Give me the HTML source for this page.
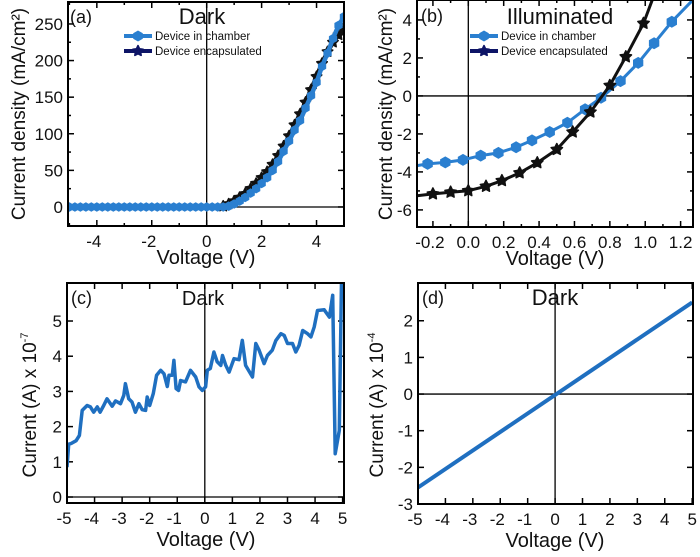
<!DOCTYPE html>
<html><head><meta charset="utf-8"><style>
body{margin:0;background:#fff;}
svg{display:block;font-family:"Liberation Sans",Arial,sans-serif;}
</style></head><body>
<svg id="fig" width="700" height="557" viewBox="0 0 700 557" xmlns="http://www.w3.org/2000/svg"></svg>
<script>
// Panel (a) data
const aVoltNeg = [-5,-4.8,-4.6,-4.4,-4.2,-4,-3.8,-3.6,-3.4,-3.2,-3,-2.8,-2.6,-2.4,-2.2,-2,-1.8,-1.6,-1.4,-1.2,-1,-0.8,-0.6,-0.4,-0.2,0,0.2,0.4];
const aVolt = [0.6,0.8,1.0,1.2,1.4,1.6,1.8,2.0,2.2,2.4,2.6,2.8,3.0,3.2,3.4,3.6,3.8,4.0,4.2,4.4,4.6,4.8,5.0];
const aChamber = [0,1,4,8,13,19,25,32,40,50,62,76,90,105,118,135,152,170,192,210,230,248,260];
const aEncaps = [1,4,8,13,18,25,32,40,48,58,70,83,97,112,127,143,160,178,196,212,225,235,242];
// Panel (b) data
const bVoltChamber = [-0.29,-0.23,-0.13,-0.03,0.07,0.17,0.27,0.36,0.46,0.56,0.66,0.75,0.86,0.96,1.05,1.15,1.27];
const bChamber = [-3.67,-3.58,-3.5,-3.37,-3.14,-3.0,-2.7,-2.34,-1.9,-1.41,-0.7,-0.1,0.78,1.74,2.77,3.91,5.06];
const bVoltEncaps = [-0.29,-0.2,-0.1,0.0,0.1,0.19,0.29,0.39,0.5,0.59,0.69,0.8,0.89,0.99,1.04];
const bEncaps = [-5.25,-5.16,-5.07,-4.99,-4.76,-4.46,-4.05,-3.52,-2.82,-1.9,-0.85,0.55,2.06,3.82,5.06];
// Panel (c) data
const cVolt = [-5,-4.94,-4.85,-4.67,-4.55,-4.45,-4.27,-4.15,-4.03,-3.9,-3.8,-3.67,-3.55,-3.36,-3.24,-3.06,-2.94,-2.88,-2.76,-2.64,-2.52,-2.39,-2.27,-2.15,-2.09,-2.0,-1.87,-1.75,-1.6,-1.48,-1.36,-1.3,-1.18,-1.12,-1.04,-0.95,-0.88,-0.7,-0.52,-0.33,-0.21,-0.09,0.03,0.09,0.2,0.33,0.45,0.58,0.64,0.76,0.88,1.06,1.24,1.36,1.48,1.73,1.85,1.97,2.15,2.27,2.45,2.58,2.76,2.88,3.0,3.18,3.3,3.42,3.55,3.73,3.85,3.97,4.09,4.33,4.52,4.64,4.73,4.88,4.96];
const cCurrent = [0.85,1.5,1.52,1.6,1.75,2.46,2.6,2.56,2.41,2.56,2.41,2.6,2.79,2.58,2.73,2.65,2.89,3.22,2.79,2.7,2.41,2.65,2.48,2.46,2.84,2.6,2.94,3.46,3.6,3.5,3.14,3.46,3.46,3.88,3.08,3.03,3.31,3.27,3.6,3.41,3.13,3.03,3.13,3.6,3.65,4.12,3.84,3.74,4.02,3.74,3.55,3.93,3.9,4.45,3.74,3.41,4.36,4.17,3.79,4.02,4.17,4.45,4.64,4.59,4.36,4.36,4.12,4.31,4.73,4.64,4.55,4.83,5.3,5.32,5.11,5.73,1.23,1.89,6.15];
// Panel (d) data
const dVolt = [-5,5];
const dCurrent = [-2.55,2.5];

const svg = document.getElementById('fig');
const NS = 'http://www.w3.org/2000/svg';
function el(tag, attrs, parent){
  const e = document.createElementNS(NS, tag);
  for (const k in attrs) e.setAttribute(k, attrs[k]);
  (parent||svg).appendChild(e);
  return e;
}
function txt(s, x, y, size, anchor, parent, rot){
  const t = el('text', {x:x, y:y, 'font-size':size, 'text-anchor':anchor||'middle', fill:'#111'}, parent);
  if (rot) t.setAttribute('transform', 'rotate(-90 '+x+' '+y+')');
  t.textContent = s;
  return t;
}
function panel(name, box, xr, yr, xt, yt, xminor, yminor, xlabels, ylabels){
  const g = el('g', {});
  
  
  const sx = v => box.x0 + (v - xr[0]) / (xr[1] - xr[0]) * (box.x1 - box.x0);
  const sy = v => box.y1 - (v - yr[0]) / (yr[1] - yr[0]) * (box.y1 - box.y0);
  const clipId = name + '-clip';
  const cp = el('clipPath', {id: clipId}, g);
  el('rect', {x:box.x0, y:box.y0, width:box.x1-box.x0, height:box.y1-box.y0}, cp);
  const zl = el('g', {}, g);
  
  
  if (xr[0] < 0 && xr[1] > 0) el('line', {x1:sx(0), x2:sx(0), y1:box.y0, y2:box.y1, stroke:'#000', 'stroke-width':1.3}, zl);
  if (yr[0] < 0 && yr[1] > 0) el('line', {x1:box.x0, x2:box.x1, y1:sy(0), y2:sy(0), stroke:'#000', 'stroke-width':1.3}, zl);
  const tk = el('g', {stroke:'#000', 'stroke-width':1.5}, g);
  
  
  xt.forEach(v => { el('line', {x1:sx(v), x2:sx(v), y1:box.y1, y2:box.y1-6}, tk); el('line', {x1:sx(v), x2:sx(v), y1:box.y0, y2:box.y0+6}, tk); });
  xminor.forEach(v => { el('line', {x1:sx(v), x2:sx(v), y1:box.y1, y2:box.y1-3}, tk); el('line', {x1:sx(v), x2:sx(v), y1:box.y0, y2:box.y0+3}, tk); });
  yt.forEach(v => { el('line', {x1:box.x0, x2:box.x0+6, y1:sy(v), y2:sy(v)}, tk); el('line', {x1:box.x1, x2:box.x1-6, y1:sy(v), y2:sy(v)}, tk); });
  yminor.forEach(v => { el('line', {x1:box.x0, x2:box.x0+3, y1:sy(v), y2:sy(v)}, tk); el('line', {x1:box.x1, x2:box.x1-3, y1:sy(v), y2:sy(v)}, tk); });
  const xl = el('g', {}, g);
  
  
  xt.forEach((v,i) => txt(xlabels[i], sx(v) - (xlabels[i][0]==='-'?3:0), box.y1+21, 17, 'middle', xl));
  const yl = el('g', {}, g);
  
  
  yt.forEach((v,i) => txt(ylabels[i], box.x0-5, sy(v)+6, 17, 'end', yl));
  const plot = el('g', {'clip-path':'url(#'+clipId+')'}, g);
  
  
  return {g, sx, sy, plot};
}
function frame(p, box){
  const r = el('rect', {x:box.x0, y:box.y0, width:box.x1-box.x0, height:box.y1-box.y0, fill:'none', stroke:'#000', 'stroke-width':2}, p.g);
  
  
}
function line(p, xs, ys, color, w, name){
  const d = xs.map((x,i) => (i?'L':'M') + p.sx(x).toFixed(1) + ',' + p.sy(ys[i]).toFixed(1)).join('');
  const path = el('path', {d:d, fill:'none', stroke:color, 'stroke-width':w, 'stroke-linejoin':'round'}, p.plot);
  
  
  return path;
}
function hexMarker(parent, cx, cy, r, color){
  let pts = [];
  for (let k=0;k<6;k++){ const a = Math.PI/6 + k*Math.PI/3; pts.push((cx+r*Math.cos(a)).toFixed(1)+','+(cy+r*Math.sin(a)).toFixed(1)); }
  const m = el('polygon', {points:pts.join(' '), fill:color}, parent);
  
  
}
function starMarker(parent, cx, cy, r, color){
  let pts = [];
  for (let k=0;k<10;k++){ const a = -Math.PI/2 + k*Math.PI/5; const rr = k%2? r*0.5 : r; pts.push((cx+rr*Math.cos(a)).toFixed(1)+','+(cy+rr*Math.sin(a)).toFixed(1)); }
  const m = el('polygon', {points:pts.join(' '), fill:color, stroke:color, 'stroke-width':1.5, 'stroke-linejoin':'round'}, parent);
  
  
}
function legend(x, y){
  const g = el('g', {});
  
  
  const e1 = el('g', {}, g);
  
  
  el('line', {x1:x, x2:x+28, y1:y, y2:y, stroke:'#2a7fd0', 'stroke-width':4}, e1);
  hexMarker(e1, x+14, y, 5.5, '#2a7fd0');
  txt('Device in chamber', x+31, y+4, 11.5, 'start', e1);
  const e2 = el('g', {}, g);
  
  
  el('line', {x1:x, x2:x+28, y1:y+15, y2:y+15, stroke:'#0d1466', 'stroke-width':4}, e2);
  starMarker(e2, x+14, y+15, 5.5, '#0d1466');
  txt('Device encapsulated', x+31, y+19, 11.5, 'start', e2);
}

// ===== Panel (a)
const boxA = {x0:68, x1:344, y0:2, y1:226};
const pa = panel('panel-a-dark-jv', boxA, [-5.05,5.0], [-26,280], [-4,-2,0,2,4], [0,50,100,150,200,250], [-5,-3,-1,1,3,5], [25,75,125,175,225],
  ['-4','-2','0','2','4'], ['0','50','100','150','200','250']);
const aAllV = aVoltNeg.concat(aVolt);
const aAllC = aVoltNeg.map(()=>0).concat(aChamber);
const aAllE = aVoltNeg.map(()=>0).concat(aEncaps);
line(pa, aAllV, aAllE, '#111', 4.5, 'series-encapsulated');
aVolt.forEach((v,i)=> starMarker(pa.plot, pa.sx(v), pa.sy(aEncaps[i]), 5.5, '#111'));
line(pa, aAllV, aAllC, '#2a7fd0', 4.5, 'series-chamber');
aAllV.forEach((v,i)=> hexMarker(pa.plot, pa.sx(v), pa.sy(aAllC[i]), 4.8, '#2a7fd0'));
frame(pa, boxA);
txt('(a)', 70, 23, 18, 'start', pa.g);
txt('Dark', 202, 24, 22, 'middle', pa.g);
txt('Voltage (V)', 206, 264, 20, 'middle', pa.g);
txt('Current density (mA/cm²)', 25, 114, 19, 'middle', pa.g, true);
legend(124, 36);

// ===== Panel (b)
const boxB = {x0:417, x1:693, y0:0, y1:227};
const pb = panel('panel-b-illuminated-jv', boxB, [-0.29,1.27], [-6.9,5.05], [-0.2,0,0.2,0.4,0.6,0.8,1.0,1.2], [-6,-4,-2,0,2,4], [-0.1,0.1,0.3,0.5,0.7,0.9,1.1], [-5,-3,-1,1,3],
  ['-0.2','0.0','0.2','0.4','0.6','0.8','1.0','1.2'], ['-6','-4','-2','0','2','4']);
line(pb, bVoltChamber, bChamber, '#2a7fd0', 3, 'series-chamber');
bVoltChamber.slice(1,16).forEach((v,i)=> hexMarker(pb.plot, pb.sx(v), pb.sy(bChamber[i+1]), 6, '#2a7fd0'));
line(pb, bVoltEncaps, bEncaps, '#111', 3, 'series-encapsulated');
bVoltEncaps.slice(1,14).forEach((v,i)=> starMarker(pb.plot, pb.sx(v), pb.sy(bEncaps[i+1]), 6, '#111'));
frame(pb, boxB);
txt('(b)', 421, 22, 18, 'start', pb.g);
txt('Illuminated', 560, 24, 22, 'middle', pb.g);
txt('Voltage (V)', 555, 265, 20, 'middle', pb.g);
txt('Current density (mA/cm²)', 392, 114, 19, 'middle', pb.g, true);
legend(470, 36);

// ===== Panel (c)
const boxC = {x0:67, x1:344, y0:283, y1:503};
const pc = panel('panel-c-dark-current', boxC, [-5,5.05], [-0.17,6.08], [-5,-4,-3,-2,-1,0,1,2,3,4,5], [0,1,2,3,4,5], [], [],
  ['-5','-4','-3','-2','-1','0','1','2','3','4','5'], ['0','1','2','3','4','5']);
line(pc, cVolt, cCurrent, '#1f6fc0', 3.5, 'series-current');
frame(pc, boxC);
txt('(c)', 71, 304, 18, 'start', pc.g);
txt('Dark', 203, 305, 20, 'middle', pc.g);
txt('Voltage (V)', 206, 546, 20, 'middle', pc.g);
const cy = txt('Current (A) x 10', 36, 405, 19, 'middle', pc.g, true);
const sup1 = el('tspan', {dy:-8, 'font-size':11}, cy); sup1.textContent = '-7';

// ===== Panel (d)
const boxD = {x0:418, x1:693, y0:283, y1:504};
const pd = panel('panel-d-dark-current', boxD, [-5,5.03], [-3,3.03], [-5,-4,-3,-2,-1,0,1,2,3,4,5], [-3,-2,-1,0,1,2], [], [],
  ['-5','-4','-3','-2','-1','0','1','2','3','4','5'], ['-3','-2','-1','0','1','2']);
line(pd, dVolt, dCurrent, '#1f6fc0', 4, 'series-current');
frame(pd, boxD);
txt('(d)', 422, 304, 18, 'start', pd.g);
txt('Dark', 555, 305, 22, 'middle', pd.g);
txt('Voltage (V)', 555, 547, 20, 'middle', pd.g);
const dy = txt('Current (A) x 10', 383, 405, 19, 'middle', pd.g, true);
const sup2 = el('tspan', {dy:-8, 'font-size':11}, dy); sup2.textContent = '-4';
</script>
</body></html>
